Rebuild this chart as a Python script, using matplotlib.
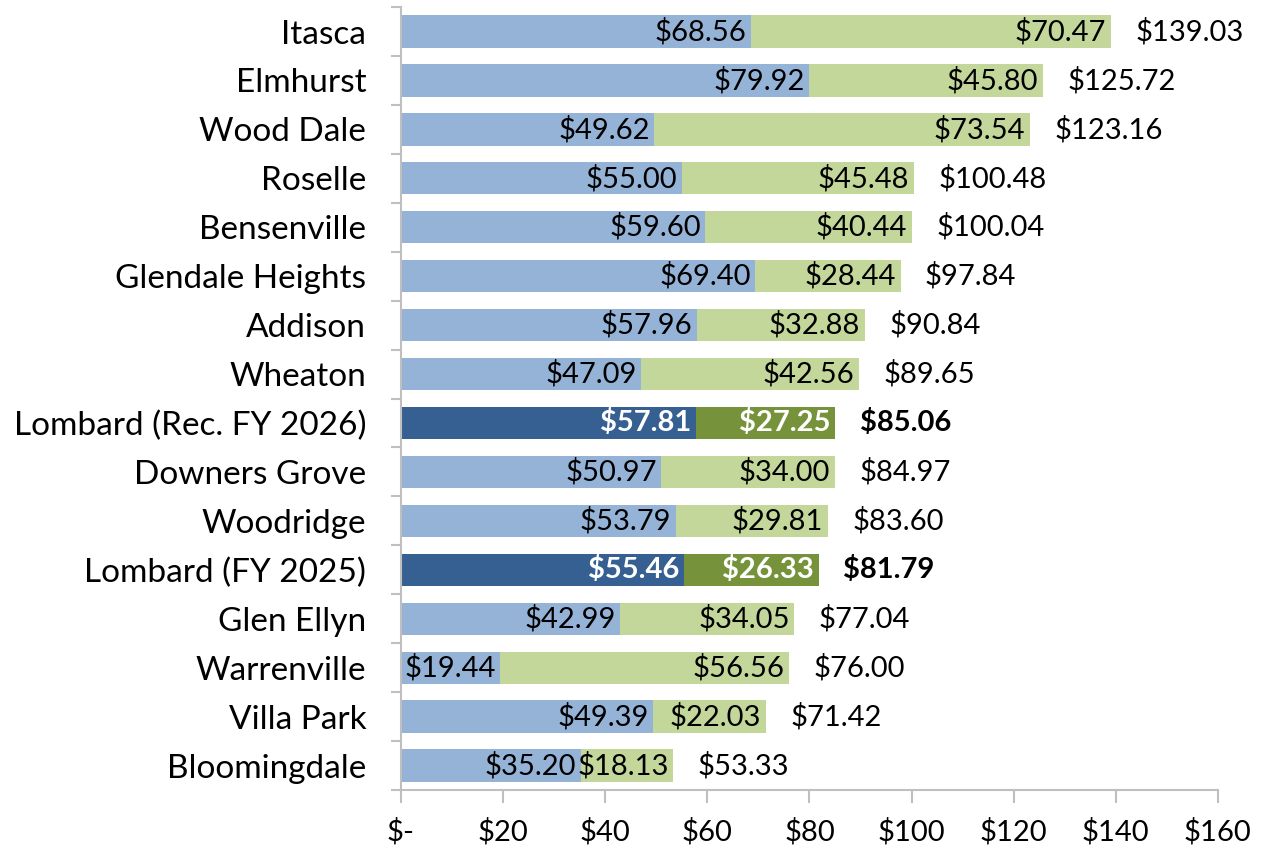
import matplotlib.pyplot as plt
from matplotlib.ticker import FuncFormatter

plt.rcParams['font.family'] = ['Lato', 'DejaVu Sans']

cidades = ['Itasca', 'Elmhurst', 'Wood Dale', 'Roselle', 'Bensenville',
           'Glendale Heights', 'Addison', 'Wheaton', 'Lombard (Rec. FY 2026)',
           'Downers Grove', 'Woodridge', 'Lombard (FY 2025)', 'Glen Ellyn',
           'Warrenville', 'Villa Park', 'Bloomingdale']
parte_a = [68.56, 79.92, 49.62, 55.00, 59.60, 69.40, 57.96, 47.09, 57.81,
           50.97, 53.79, 55.46, 42.99, 19.44, 49.39, 35.20]
parte_b = [70.47, 45.80, 73.54, 45.48, 40.44, 28.44, 32.88, 42.56, 27.25,
           34.00, 29.81, 26.33, 34.05, 56.56, 22.03, 18.13]
totais = [139.03, 125.72, 123.16, 100.48, 100.04, 97.84, 90.84, 89.65, 85.06,
          84.97, 83.60, 81.79, 77.04, 76.00, 71.42, 53.33]

fig = plt.figure(figsize=(12.66, 8.48), dpi=100)
ax = fig.add_axes([0.3167, 0.0684, 0.6453, 0.9233])

y = list(range(len(cidades)))
destaque = [c.startswith('Lombard') for c in cidades]
cor_a = ['#366092' if d else '#95B3D7' for d in destaque]
cor_b = ['#76933C' if d else '#C4D79B' for d in destaque]

ax.barh(y, parte_a, height=0.66, color=cor_a)
ax.barh(y, parte_b, left=parte_a, height=0.66, color=cor_b)

fs = 21
for i in y:
    peso = 'bold' if destaque[i] else 'normal'
    cor_txt = 'white' if destaque[i] else 'black'
    ax.text(parte_a[i] - 0.9, i, f'${parte_a[i]:.2f}', ha='right', va='center',
            fontsize=fs, color=cor_txt, fontweight=peso)
    ax.text(parte_a[i] + parte_b[i] - 0.9, i, f'${parte_b[i]:.2f}', ha='right',
            va='center', fontsize=fs, color=cor_txt, fontweight=peso)
    ax.text(totais[i] + 4.8, i, f'${totais[i]:.2f}', ha='left', va='center',
            fontsize=fs, color='black', fontweight=peso)

ax.set_ylim(len(cidades) - 0.5, -0.5)
ax.set_xlim(0, 160)
ax.set_yticks(y)
ax.set_yticklabels(cidades, fontsize=24)
ax.set_yticks([i - 0.5 for i in range(len(cidades) + 1)], minor=True)
ax.tick_params(axis='y', which='major', length=0, pad=25)
ax.tick_params(axis='y', which='minor', length=7, color='#BFBFBF', width=1.5)
ax.set_xticks(range(0, 161, 20))
ax.xaxis.set_major_formatter(FuncFormatter(lambda v, p: '$-' if v == 0 else f'${v:.0f}'))
ax.tick_params(axis='x', length=9, color='#BFBFBF', width=1.5, labelsize=21, pad=11)

for s in ['top', 'right']:
    ax.spines[s].set_visible(False)
for s in ['left', 'bottom']:
    ax.spines[s].set_color('#BFBFBF')
    ax.spines[s].set_linewidth(1.5)

fig.savefig('out.png', dpi=100)
